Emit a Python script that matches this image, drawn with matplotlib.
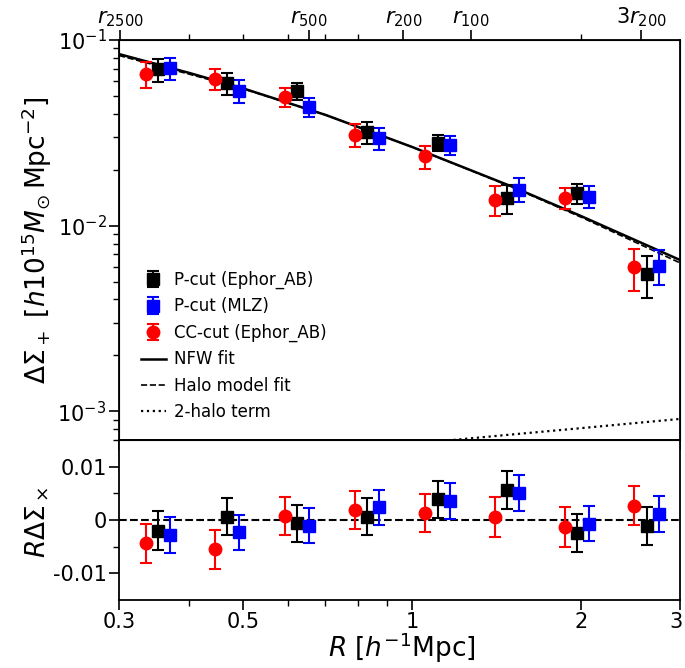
import numpy as np
import matplotlib
matplotlib.use("Agg")
import matplotlib.pyplot as plt
import matplotlib.transforms as mtransforms
from matplotlib.ticker import FixedLocator, NullFormatter, FixedFormatter

plt.rcParams['font.family'] = ['DejaVu Sans']
plt.rcParams['mathtext.fontset'] = 'dejavusans'
plt.rcParams['axes.unicode_minus'] = False

# ---------------- data ----------------
R_bins = [0.3525, 0.468, 0.624, 0.831, 1.109, 1.475, 1.967, 2.617]
red_shift = 0.9505
blue_shift = 1.0504

# tangential shear profiles
dsig_pcut_ephor = [0.0694, 0.0583, 0.0530, 0.0319, 0.0279, 0.01405, 0.01495, 0.00548]
err_pcut_ephor = [0.0100, 0.0079, 0.0055, 0.0044, 0.0027, 0.0025, 0.0019, 0.0014]
dsig_pcut_mlz = [0.0703, 0.0532, 0.0436, 0.0296, 0.0271, 0.01565, 0.01435, 0.00608]
err_pcut_mlz = [0.0097, 0.0074, 0.0053, 0.0040, 0.0032, 0.0023, 0.0019, 0.0013]
dsig_cc_ephor = [0.0653, 0.0615, 0.0494, 0.0308, 0.0236, 0.01382, 0.01412, 0.00595]
err_cc_ephor = [0.0105, 0.0080, 0.0059, 0.0043, 0.0034, 0.0026, 0.0019, 0.0015]

# cross shear (R * DeltaSigma_x)
cross_pcut_ephor = [-0.0020, 0.0006, -0.0006, 0.0006, 0.0039, 0.0056, -0.0024, -0.0011]
cerr_pcut_ephor = [0.0036, 0.0035, 0.0035, 0.0035, 0.0035, 0.0036, 0.0036, 0.0036]
cross_pcut_mlz = [-0.0028, -0.0023, -0.0011, 0.0024, 0.0036, 0.0051, -0.0007, 0.0011]
cerr_pcut_mlz = [0.0033, 0.0033, 0.0033, 0.0033, 0.0034, 0.0034, 0.0033, 0.0034]
cross_cc_ephor = [-0.0044, -0.0055, 0.0008, 0.0019, 0.0013, 0.0006, -0.0013, 0.0027]
cerr_cc_ephor = [0.0036, 0.0036, 0.0036, 0.0036, 0.0036, 0.0037, 0.0037, 0.0037]

# model curves
R_model = [0.3, 0.4, 0.5, 0.7, 1.0, 1.5, 2.0, 3.0]
nfw_fit = [0.0840, 0.0665, 0.0548, 0.0395, 0.0265, 0.0163, 0.01125, 0.00653]
halo_fit = [0.0825, 0.0655, 0.0545, 0.0395, 0.0265, 0.0162, 0.01110, 0.00630]
R_2h = [1.0, 1.5, 2.0, 2.5, 3.0]
twohalo = [0.000668, 0.000749, 0.000811, 0.000864, 0.000909]

# top-axis characteristic radii
r_ticks = [0.3017, 0.653, 0.964, 1.273, 2.558]
r_labels = [r'$r_{2500}$', r'$r_{500}$', r'$r_{200}$', r'$r_{100}$', r'$3r_{200}$']

x_ticks = [0.3, 0.5, 1, 2, 3]
x_ticklabels = ['0.3', '0.5', '1', '2', '3']

# ---------------- figure ----------------
W, H = 685, 668
fig = plt.figure(figsize=(W/100, H/100), dpi=100)
left, right = 119/W, 680/W
top, mid, bot = 1-40/H, 1-440/H, 1-600/H
ax1 = fig.add_axes([left, mid, right-left, top-mid])
ax2 = fig.add_axes([left, bot, right-left, mid-bot], sharex=ax1)

Rb = np.array(R_bins)
ms = 8.5
ekw = dict(capsize=4, elinewidth=1.5, capthick=1.5, linestyle='none')

h1 = ax1.errorbar(Rb, dsig_pcut_ephor, yerr=err_pcut_ephor, fmt='s', color='black',
                  ms=ms, label='P-cut (Ephor_AB)', zorder=4, **ekw)
h2 = ax1.errorbar(Rb*blue_shift, dsig_pcut_mlz, yerr=err_pcut_mlz, fmt='s', color='#0000ff',
                  ms=ms, label='P-cut (MLZ)', zorder=4, **ekw)
h3 = ax1.errorbar(Rb*red_shift, dsig_cc_ephor, yerr=err_cc_ephor, fmt='o', color='#ff0000',
                  ms=ms+0.5, label='CC-cut (Ephor_AB)', zorder=4, **ekw)
l1, = ax1.plot(R_model, nfw_fit, '-', color='black', lw=1.8, label='NFW fit', zorder=3)
l2, = ax1.plot(R_model, halo_fit, '--', color='black', lw=1.2, label='Halo model fit', zorder=3)
l3, = ax1.plot(R_2h, twohalo, ':', color='black', lw=1.6, label='2-halo term', zorder=3)

ax1.set_xscale('log')
ax1.set_yscale('log')
ax1.set_xlim(0.3, 3.0)
ax1.set_ylim(7e-4, 0.1)

ax2.errorbar(Rb, cross_pcut_ephor, yerr=cerr_pcut_ephor, fmt='s', color='black', ms=ms, zorder=4, **ekw)
ax2.errorbar(Rb*blue_shift, cross_pcut_mlz, yerr=cerr_pcut_mlz, fmt='s', color='#0000ff', ms=ms, zorder=4, **ekw)
ax2.errorbar(Rb*red_shift, cross_cc_ephor, yerr=cerr_cc_ephor, fmt='o', color='#ff0000', ms=ms+0.5, zorder=4, **ekw)
ax2.axhline(0, color='black', ls='--', lw=1.5, zorder=2)
ax2.set_ylim(-0.015, 0.015)
ax2.set_yticks([-0.01, 0, 0.01])
ax2.set_yticklabels(['-0.01', '0', '0.01'])
ax2.yaxis.set_minor_locator(FixedLocator([-0.005, 0.005]))

ax2.set_xticks(x_ticks)
ax2.set_xticklabels(x_ticklabels)
ax2.xaxis.set_minor_locator(FixedLocator([0.4, 0.6, 0.7, 0.8, 0.9]))
ax2.xaxis.set_minor_formatter(NullFormatter())
ax1.tick_params(axis='x', which='both', labelbottom=False)

for ax in (ax1, ax2):
    ax.tick_params(axis='both', which='major', direction='out', length=7, width=1.2, labelsize=15, pad=2)
    ax.tick_params(axis='both', which='minor', direction='out', length=4, width=1.0)
    for s in ax.spines.values():
        s.set_linewidth(1.3)

# nudge the last x tick label so it stays inside the canvas
last = ax2.get_xticklabels()[-1]
last.set_transform(last.get_transform() + mtransforms.ScaledTranslation(-4/100, 0, fig.dpi_scale_trans))

# top axis with characteristic radii
axt = ax1.twiny()
axt.set_xscale('log')
axt.set_xlim(0.3, 3.0)
axt.xaxis.set_major_locator(FixedLocator(r_ticks))
axt.xaxis.set_major_formatter(FixedFormatter(r_labels))
axt.xaxis.set_minor_locator(FixedLocator([0.4, 0.5, 0.6, 0.7, 0.8, 2.0]))
axt.xaxis.set_minor_formatter(NullFormatter())
axt.tick_params(axis='x', which='major', direction='out', length=7, width=1.2, labelsize=15, pad=1)
axt.tick_params(axis='x', which='minor', direction='out', length=4, width=1.0)

# labels
fig.text(37/W, 1-240/H, r'$\Delta\Sigma_+$ [$h10^{15}M_{\odot}\,{\rm Mpc}^{-2}$]',
         rotation=90, ha='center', va='center', fontsize=19)
fig.text(37/W, 1-522/H, r'$R\Delta\Sigma_\times$', rotation=90, ha='center', va='center', fontsize=19)
fig.text(402/W, 1-648/H, r'$R$ [$h^{-1}$Mpc]', ha='center', va='center', fontsize=19)

leg = ax1.legend(handles=[h1, h2, h3, l1, l2, l3], loc='lower left', bbox_to_anchor=(0.012, 0.01),
                 frameon=False, fontsize=12, handlelength=1.5, handletextpad=0.5,
                 labelspacing=0.5, numpoints=1)

fig.savefig('out.png', dpi=100)
